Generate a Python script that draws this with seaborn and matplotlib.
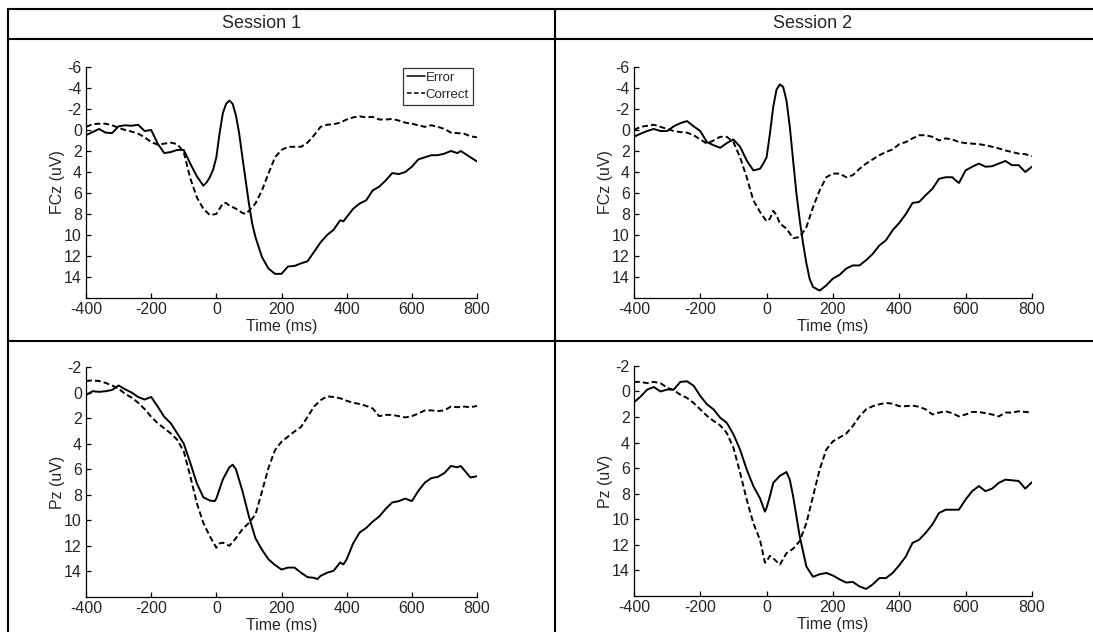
import matplotlib
matplotlib.use("Agg")
import matplotlib.pyplot as plt
from matplotlib.lines import Line2D
import seaborn as sns

# ---- data (time in ms, amplitude in uV) ----
s1_fcz_err_t = [-400, -380, -360, -340, -320, -300, -280, -260, -240, -220, -200, -180, -160, -140, -120, -100,
                -80, -60, -40, -30, -20, -10, 0, 10, 20, 30, 40, 50, 60, 70, 80, 90, 100, 110, 120, 140, 160,
                180, 200, 220, 240, 260, 280, 300, 320, 340, 360, 380, 390, 400, 420, 440, 460, 480, 500, 520,
                540, 560, 580, 600, 620, 640, 660, 680, 700, 720, 740, 750, 760, 780, 800]
s1_fcz_err_v = [0.5, 0.2, -0.1, 0.25, 0.3, -0.35, -0.45, -0.4, -0.5, 0.1, 0.0, 1.3, 2.2, 2.1, 1.9, 1.9,
                3.2, 4.4, 5.3, 5.0, 4.5, 3.8, 2.6, 0.3, -1.6, -2.5, -2.8, -2.5, -1.4, 0.3, 2.6, 4.8, 7.0, 8.9,
                10.2, 12.1, 13.2, 13.7, 13.7, 13.0, 12.95, 12.7, 12.5, 11.6, 10.7, 10.0, 9.5, 8.6, 8.7, 8.3,
                7.5, 7.0, 6.7, 5.75, 5.4, 4.8, 4.1, 4.2, 4.0, 3.5, 2.8, 2.6, 2.4, 2.4, 2.25, 2.0, 2.2, 2.0,
                2.2, 2.6, 3.0]
s1_fcz_cor_t = [-400, -380, -360, -340, -320, -300, -280, -260, -240, -220, -200, -180, -160, -140, -120, -100,
                -80, -60, -40, -20, 0, 10, 20, 30, 40, 60, 80, 90, 100, 120, 140, 160, 180, 200, 220, 240, 260,
                280, 300, 320, 340, 360, 380, 400, 420, 440, 460, 480, 500, 520, 540, 560, 580, 600, 620, 640,
                660, 680, 700, 720, 740, 760, 780, 800]
s1_fcz_cor_v = [-0.3, -0.55, -0.6, -0.6, -0.45, -0.2, 0.0, 0.15, 0.35, 0.7, 1.15, 1.4, 1.3, 1.2, 1.35, 2.1,
                4.6, 6.4, 7.5, 8.1, 8.0, 7.5, 7.0, 6.95, 7.2, 7.5, 7.9, 8.0, 7.7, 7.0, 5.75, 4.15, 2.6, 1.9,
                1.6, 1.6, 1.6, 1.2, 0.5, -0.3, -0.5, -0.55, -0.7, -1.0, -1.2, -1.3, -1.2, -1.25, -1.0, -1.0,
                -1.05, -0.9, -0.7, -0.6, -0.45, -0.3, -0.45, -0.3, -0.1, 0.25, 0.3, 0.35, 0.6, 0.7]

s2_fcz_err_t = [-400, -380, -360, -340, -320, -300, -280, -260, -240, -220, -200, -180, -160, -140, -120, -100,
                -80, -60, -40, -20, -10, 0, 10, 20, 30, 40, 50, 60, 70, 80, 90, 100, 110, 120, 130, 140, 160,
                180, 200, 220, 240, 260, 280, 300, 320, 340, 360, 380, 400, 420, 440, 460, 480, 500, 520, 540,
                560, 570, 580, 600, 620, 640, 660, 680, 700, 720, 740, 760, 780, 800]
s2_fcz_err_v = [0.65, 0.35, 0.1, -0.1, 0.1, 0.1, -0.35, -0.65, -0.85, -0.35, 0.1, 1.15, 1.45, 1.7, 1.25, 0.9,
                1.6, 2.9, 3.85, 3.7, 3.2, 2.6, 0.35, -2.2, -3.85, -4.35, -4.1, -2.8, -0.3, 2.9, 6.05, 8.6,
                10.8, 12.7, 14.2, 14.95, 15.3, 14.8, 14.15, 13.8, 13.2, 12.9, 12.9, 12.4, 11.8, 11.0, 10.5,
                9.55, 8.85, 8.0, 6.95, 6.85, 6.2, 5.6, 4.65, 4.5, 4.5, 4.8, 5.05, 3.85, 3.5, 3.2, 3.5, 3.45,
                3.2, 2.95, 3.35, 3.35, 4.0, 3.5]
s2_fcz_cor_t = [-400, -380, -360, -340, -320, -300, -280, -260, -240, -220, -200, -180, -160, -140, -120, -100,
                -80, -60, -40, -20, 0, 10, 20, 30, 40, 60, 80, 100, 120, 140, 160, 180, 200, 220, 240, 260, 280,
                300, 320, 340, 360, 380, 400, 420, 440, 460, 480, 500, 520, 540, 560, 580, 600, 620, 640, 660,
                680, 700, 720, 740, 760, 780, 800]
s2_fcz_cor_v = [0.0, -0.3, -0.4, -0.5, -0.3, -0.1, 0.1, 0.2, 0.25, 0.5, 0.9, 1.3, 1.0, 0.65, 0.65, 1.15,
                2.6, 4.5, 6.7, 7.8, 8.7, 8.45, 7.7, 8.1, 8.9, 9.4, 10.3, 10.2, 9.25, 7.35, 5.75, 4.5, 4.15,
                4.15, 4.5, 4.3, 3.7, 3.2, 2.8, 2.4, 2.1, 1.85, 1.35, 1.15, 0.8, 0.5, 0.5, 0.65, 1.0, 0.8, 0.9,
                1.15, 1.25, 1.3, 1.35, 1.45, 1.6, 1.75, 1.95, 2.1, 2.25, 2.3, 2.5]

s1_pz_err_t = [-400, -380, -360, -340, -320, -300, -280, -260, -240, -220, -200, -180, -160, -140, -120, -100,
               -80, -60, -40, -20, -5, 0, 20, 40, 50, 60, 80, 100, 120, 140, 160, 180, 200, 220, 240, 260, 280,
               300, 310, 320, 340, 360, 380, 390, 400, 420, 440, 460, 480, 500, 520, 540, 560, 580, 600, 620,
               640, 660, 680, 700, 720, 740, 750, 760, 780, 800]
s1_pz_err_v = [0.2, -0.1, -0.05, -0.1, -0.2, -0.55, -0.25, 0.0, 0.35, 0.55, 0.35, 1.1, 1.9, 2.4, 3.2, 4.0,
               5.5, 7.1, 8.2, 8.45, 8.5, 8.3, 6.8, 5.85, 5.65, 6.0, 7.7, 9.7, 11.4, 12.3, 13.05, 13.5, 13.85,
               13.7, 13.7, 14.1, 14.45, 14.5, 14.6, 14.35, 14.1, 13.95, 13.3, 13.45, 13.05, 11.8, 10.95,
               10.6, 10.1, 9.7, 9.1, 8.6, 8.5, 8.3, 8.5, 7.7, 7.05, 6.7, 6.6, 6.3, 5.75, 5.85, 5.75, 6.05,
               6.65, 6.55]
s1_pz_cor_t = [-400, -380, -360, -340, -320, -300, -280, -260, -240, -220, -200, -180, -160, -140, -120, -100,
               -80, -60, -40, -20, 0, 10, 20, 40, 60, 80, 100, 120, 140, 160, 180, 200, 220, 240, 260, 280, 300,
               320, 340, 360, 380, 400, 420, 440, 460, 480, 500, 520, 540, 560, 580, 600, 620, 640, 660, 680,
               700, 720, 740, 760, 780, 800]
s1_pz_cor_v = [-0.9, -0.95, -0.9, -0.75, -0.55, -0.3, 0.1, 0.4, 0.8, 1.3, 1.9, 2.4, 2.8, 3.2, 3.7, 4.6,
               6.55, 8.65, 10.2, 11.25, 12.15, 11.8, 11.75, 12.0, 11.4, 10.7, 10.2, 9.55, 7.75, 5.9, 4.5,
               3.85, 3.45, 3.05, 2.7, 1.9, 1.1, 0.6, 0.3, 0.35, 0.45, 0.65, 0.8, 0.9, 1.05, 1.25, 1.85, 1.75,
               1.75, 1.85, 1.95, 1.85, 1.65, 1.4, 1.4, 1.45, 1.4, 1.1, 1.15, 1.1, 1.15, 1.05]

s2_pz_err_t = [-400, -380, -360, -340, -320, -300, -280, -260, -240, -220, -200, -180, -160, -140, -120, -100,
               -80, -60, -40, -20, -5, 0, 10, 20, 40, 60, 70, 80, 100, 120, 140, 160, 180, 200, 220, 240, 260,
               280, 300, 320, 340, 360, 380, 400, 420, 440, 460, 480, 500, 520, 540, 560, 580, 600, 620, 640,
               660, 680, 700, 720, 740, 760, 780, 800]
s2_pz_err_v = [0.85, 0.4, -0.15, -0.35, 0.0, -0.15, -0.15, -0.75, -0.8, -0.45, 0.35, 1.0, 1.4, 2.05, 2.45,
               3.35, 4.55, 6.1, 7.4, 8.35, 9.4, 9.1, 8.2, 7.15, 6.6, 6.3, 6.9, 8.2, 11.35, 13.7, 14.5, 14.3,
               14.2, 14.4, 14.7, 14.95, 14.9, 15.25, 15.45, 15.1, 14.6, 14.6, 14.2, 13.6, 12.9, 11.85, 11.6,
               11.05, 10.4, 9.5, 9.25, 9.25, 9.25, 8.45, 7.8, 7.4, 7.8, 7.6, 7.15, 6.9, 6.95, 7.0, 7.6, 7.1]
s2_pz_cor_t = [-400, -380, -360, -340, -320, -300, -280, -260, -240, -220, -200, -180, -160, -140, -120, -100,
               -80, -60, -40, -20, -5, 0, 10, 20, 40, 60, 80, 100, 120, 140, 160, 180, 200, 220, 240, 260, 280,
               300, 320, 340, 360, 380, 400, 420, 440, 460, 480, 500, 520, 540, 560, 580, 600, 620, 640, 660,
               680, 700, 720, 740, 760, 780, 800]
s2_pz_cor_v = [-0.75, -0.75, -0.65, -0.75, -0.65, -0.3, -0.1, 0.25, 0.5, 0.9, 1.4, 1.9, 2.3, 2.65, 3.25, 4.4,
               6.35, 8.45, 10.3, 11.6, 13.4, 13.3, 12.85, 13.05, 13.55, 12.65, 12.3, 11.7, 10.3, 8.2, 6.1,
               4.55, 3.9, 3.6, 3.3, 2.7, 1.95, 1.4, 1.15, 1.0, 0.9, 0.95, 1.15, 1.15, 1.1, 1.2, 1.4, 1.8,
               1.65, 1.55, 1.7, 1.95, 1.8, 1.6, 1.6, 1.7, 1.8, 1.95, 1.65, 1.65, 1.55, 1.6, 1.65]

sessions = ["Session 1", "Session 2"]
channels = ["FCz (uV)", "Pz (uV)"]
x_ticks = [-400, -200, 0, 200, 400, 600, 800]
fcz_ticks = [-6, -4, -2, 0, 2, 4, 6, 8, 10, 12, 14]
pz_ticks = [-2, 0, 2, 4, 6, 8, 10, 12, 14]


def make_figure():
    sns.set_style("ticks")
    plt.rcParams["font.family"] = ["Liberation Sans", "DejaVu Sans"]
    plt.rcParams["axes.unicode_minus"] = False
    plt.rcParams["xtick.direction"] = "in"
    plt.rcParams["ytick.direction"] = "in"

    fig = plt.figure(figsize=(10.93, 6.32), dpi=100)

    # axes rectangles in figure fractions (left, bottom, width, height)
    rects = [
        [0.0787, 0.5285, 0.3577, 0.3655],
        [0.5800, 0.5285, 0.3641, 0.3655],
        [0.0787, 0.0554, 0.3577, 0.3640],
        [0.5800, 0.0570, 0.3641, 0.3640],
    ]
    panels = [
        (s1_fcz_err_t, s1_fcz_err_v, s1_fcz_cor_t, s1_fcz_cor_v, channels[0], fcz_ticks, -6),
        (s2_fcz_err_t, s2_fcz_err_v, s2_fcz_cor_t, s2_fcz_cor_v, channels[0], fcz_ticks, -6),
        (s1_pz_err_t, s1_pz_err_v, s1_pz_cor_t, s1_pz_cor_v, channels[1], pz_ticks, -2),
        (s2_pz_err_t, s2_pz_err_v, s2_pz_cor_t, s2_pz_cor_v, channels[1], pz_ticks, -2),
    ]

    for i, (rect, p) in enumerate(zip(rects, panels)):
        et, ev, ct, cv, ylab, yt, ytop = p
        ax = fig.add_axes(rect)
        sns.lineplot(x=et, y=ev, ax=ax, color="black", lw=1.4, estimator=None, label="Error")
        sns.lineplot(x=ct, y=cv, ax=ax, color="black", lw=1.4, estimator=None, label="Correct")
        ax.lines[1].set_dashes([3, 1.6])
        ax.set_xlim(-400, 800)
        ax.set_ylim(16, ytop)
        ax.set_xticks(x_ticks)
        ax.set_yticks(yt)
        ax.set_xlabel("Time (ms)", fontsize=11.5, labelpad=1)
        ax.set_ylabel(ylab, fontsize=11.5, labelpad=-1)
        ax.tick_params(labelsize=11.5, length=3.5, width=0.9, pad=3, color="black")
        for s in ["left", "bottom"]:
            ax.spines[s].set_linewidth(0.9)
            ax.spines[s].set_color("black")
        sns.despine(ax=ax)
        if i == 0:
            leg = ax.legend(loc="upper right", bbox_to_anchor=(0.99, 0.997), borderaxespad=0,
                            fontsize=9.5, frameon=True, fancybox=False, handlelength=1.3,
                            handletextpad=0.1, borderpad=0.3, labelspacing=0.35)
            leg.get_frame().set_edgecolor("black")
            leg.get_frame().set_linewidth(0.9)
            for h in leg.get_lines():
                h.set_linewidth(1.1)
        else:
            ax.get_legend().remove()

    # table-like frame around the panels
    frame = dict(color="black", lw=1.5, transform=fig.transFigure)
    fig.add_artist(Line2D([0.0073, 1.0], [0.9858, 0.9858], **frame))
    fig.add_artist(Line2D([0.0073, 1.0], [0.9383, 0.9383], **frame))
    fig.add_artist(Line2D([0.0073, 1.0], [0.4604, 0.4604], **frame))
    fig.add_artist(Line2D([0.0073, 0.0073], [0.0, 0.9858], **frame))
    fig.add_artist(Line2D([0.5078, 0.5078], [0.0, 0.9858], **frame))

    fig.text(0.2397, 0.9635, sessions[0], ha="center", va="center", fontsize=13)
    fig.text(0.7438, 0.9635, sessions[1], ha="center", va="center", fontsize=13)

    fig.savefig("out.png", dpi=100)
    plt.close(fig)


if __name__ == "__main__":
    make_figure()
